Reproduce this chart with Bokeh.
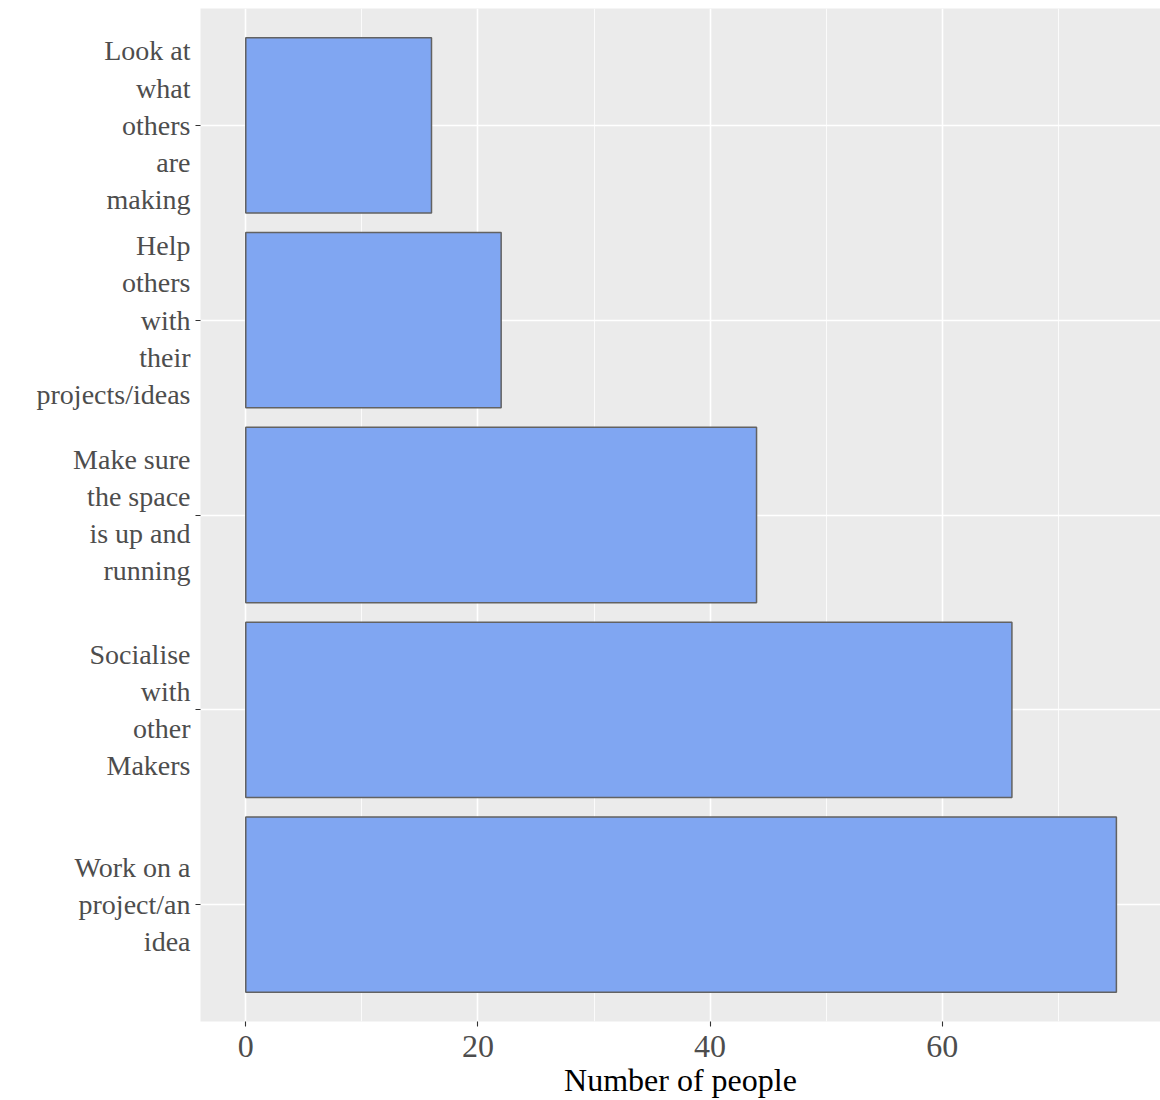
from bokeh.plotting import figure
from bokeh.models import Range1d, FixedTicker, ColumnDataSource
from bokeh.embed import file_html
from bokeh.resources import INLINE

# ---- data ----
categories = [
    "Look at\nwhat\nothers\nare\nmaking",
    "Help\nothers\nwith\ntheir\nprojects/ideas",
    "Make sure\nthe space\nis up and\nrunning",
    "Socialise\nwith\nother\nMakers",
    "Work on a\nproject/an\nidea",
]
counts = [16, 22, 44, 66, 75]
x_ticks = [0, 20, 40, 60]
x_minor_ticks = [10, 30, 50, 70]
x_title = "Number of people"

FONT = "Liberation Serif"
X_START, X_END = -3.9, 78.8

# discrete positions: first category on top (1..n from the bottom)
n_cat = len(categories)
y_pos = [n_cat - i for i in range(n_cat)]

p = figure(
    width=1160, height=1100,
    y_range=Range1d(0.4, n_cat + 0.6), x_range=Range1d(X_START, X_END),
    output_backend="svg", toolbar_location=None,
    min_border_left=200, min_border_right=0, min_border_top=8, min_border_bottom=79,
)
p.background_fill_color = "#EBEBEB"
p.border_fill_color = "white"
p.outline_line_color = None

src = ColumnDataSource(dict(y=y_pos, n=counts))
p.hbar(y="y", left=0, right="n", height=0.9, source=src,
       fill_color="#80A6F2", line_color="#626262", line_width=1.5)

# grids
p.xgrid.ticker = FixedTicker(ticks=x_ticks, minor_ticks=x_minor_ticks)
p.xgrid.grid_line_color = "white"
p.xgrid.grid_line_width = 1.6
p.xgrid.minor_grid_line_color = "white"
p.xgrid.minor_grid_line_width = 0.8
p.ygrid.ticker = FixedTicker(ticks=y_pos, minor_ticks=[])
p.ygrid.grid_line_color = "white"
p.ygrid.grid_line_width = 1.6

# axes
p.xaxis.ticker = FixedTicker(ticks=x_ticks, minor_ticks=x_minor_ticks)
p.yaxis.ticker = FixedTicker(ticks=y_pos, minor_ticks=[])
p.yaxis.major_label_overrides = {yv: cat for yv, cat in zip(y_pos, categories)}
p.xaxis.axis_label = x_title
for ax in (p.xaxis[0], p.yaxis[0]):
    ax.axis_line_color = None
    ax.major_tick_in = 0
    ax.major_tick_out = 5
    ax.major_tick_line_color = "#333333"
    ax.major_tick_line_width = 1.1
    ax.minor_tick_line_color = None
    ax.major_label_text_font = FONT
    ax.major_label_text_font_size = "32px"
    ax.major_label_text_color = "#4D4D4D"

p.yaxis.major_label_text_font_size = "28px"
p.yaxis.major_label_standoff = 5
p.xaxis.major_label_standoff = 9
p.xaxis.axis_label_text_font = FONT
p.xaxis.axis_label_text_font_size = "32px"
p.xaxis.axis_label_text_font_style = "normal"
p.xaxis.axis_label_text_color = "black"
p.xaxis.axis_label_standoff = 2

open("out.html", "w").write(file_html(p, INLINE))
